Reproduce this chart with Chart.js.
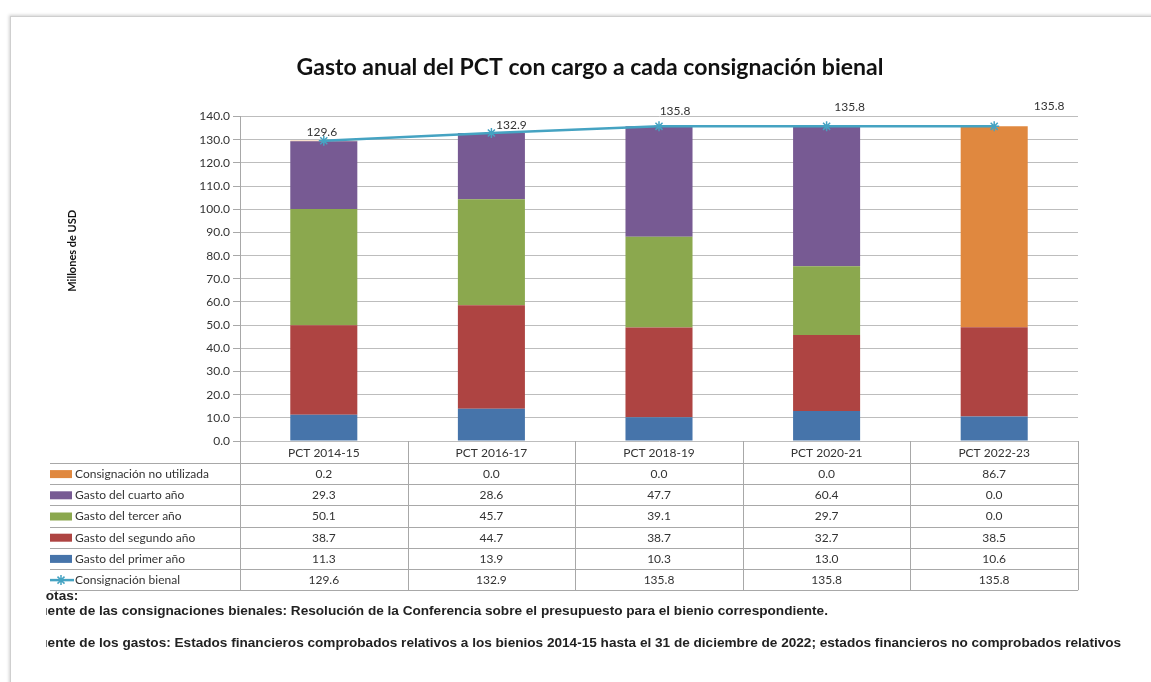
<!DOCTYPE html>
<html>
<head>
<meta charset="utf-8">
<script src="https://cdn.jsdelivr.net/npm/chart.js@4"></script>
<style>
  html, body { margin: 0; padding: 0; background: #fff; }
  body { width: 1151px; height: 682px; position: relative; overflow: hidden; }
  #frame { position: absolute; left: 10px; top: 16px; width: 1200px; height: 720px;
           border: 1px solid #cfcfcf; box-shadow: -1px -1px 3px rgba(0,0,0,0.18); }
  #wrap { position: absolute; left: 0; top: 0; width: 1151px; height: 682px; }
  .note { position: absolute; left: 46px; overflow: hidden; white-space: nowrap;
          font-family: "Liberation Sans", Arial, sans-serif; font-weight: bold; font-size: 13.6px; color: #222; }
  .note span { position: relative; }
</style>
</head>
<body>
<div id="frame"></div>
<div id="wrap"><canvas id="c" width="1151" height="682"></canvas></div>
<div class="note" style="top:588px; width:200px;"><span style="left:-10px;">Notas:</span></div>
<div class="note" style="top:603px; width:1100px;"><span style="left:-15px;">Fuente de las consignaciones bienales: Resolución de la Conferencia sobre el presupuesto para el bienio correspondiente.</span></div>
<div class="note" style="top:635px; width:1100px;"><span style="left:-15px;">Fuente de los gastos: Estados financieros comprobados relativos a los bienios 2014-15 hasta el 31 de diciembre de 2022; estados financieros no comprobados relativos</span></div>
<script>
const categories = ["PCT 2014-15", "PCT 2016-17", "PCT 2018-19", "PCT 2020-21", "PCT 2022-23"];
const primerAno   = [11.3, 13.9, 10.3, 13.0, 10.6];
const segundoAno  = [38.7, 44.7, 38.7, 32.7, 38.5];
const tercerAno   = [50.1, 45.7, 39.1, 29.7, 0.0];
const cuartoAno   = [29.3, 28.6, 47.7, 60.4, 0.0];
const noUtilizada = [0.2, 0.0, 0.0, 0.0, 86.7];
const consignacion = [129.6, 132.9, 135.8, 135.8, 135.8];
const yTicks = [0, 10, 20, 30, 40, 50, 60, 70, 80, 90, 100, 110, 120, 130, 140];

const FONT = "Lato, 'Open Sans', sans-serif";
const TEXT = "#333333";
const LINE_COLOR = "#45A3C2";

const datasets = [
  { label: "Gasto del primer año", data: primerAno, backgroundColor: "#4674AA", order: 1 },
  { label: "Gasto del segundo año", data: segundoAno, backgroundColor: "#AE4442", order: 1 },
  { label: "Gasto del tercer año", data: tercerAno, backgroundColor: "#8BA84E", order: 1 },
  { label: "Gasto del cuarto año", data: cuartoAno, backgroundColor: "#775A93", order: 1 },
  { label: "Consignación no utilizada", data: noUtilizada, backgroundColor: "#E0883F", order: 1 },
  { label: "Consignación bienal", data: consignacion, type: "line", stack: "line", order: 0,
    borderColor: LINE_COLOR, backgroundColor: LINE_COLOR, borderWidth: 2.5,
    pointStyle: "star", pointRadius: 5, pointBorderWidth: 1.5, pointBorderColor: LINE_COLOR, tension: 0 }
];

// Table rows in display order (top to bottom)
const tableRows = [
  { label: "Consignación no utilizada", values: noUtilizada, color: "#E0883F" },
  { label: "Gasto del cuarto año", values: cuartoAno, color: "#775A93" },
  { label: "Gasto del tercer año", values: tercerAno, color: "#8BA84E" },
  { label: "Gasto del segundo año", values: segundoAno, color: "#AE4442" },
  { label: "Gasto del primer año", values: primerAno, color: "#4674AA" },
  { label: "Consignación bienal", values: consignacion, color: LINE_COLOR, line: true }
];

const labelOffsets = [[-2, -9], [20, -8], [16, -15], [23, -19], [55, -20]];

const tablePlugin = {
  id: "dataTable",
  afterDatasetsDraw(chart) {
    const ctx = chart.ctx;
    const meta = chart.getDatasetMeta(5);
    ctx.save();
    ctx.font = "12px " + FONT;
    ctx.fillStyle = TEXT;
    ctx.textAlign = "center";
    ctx.textBaseline = "middle";
    meta.data.forEach((pt, i) => {
      ctx.fillText(consignacion[i].toFixed(1), pt.x + labelOffsets[i][0], pt.y + labelOffsets[i][1]);
    });
    ctx.restore();
  },
  afterDraw(chart) {
    const ctx = chart.ctx;
    const area = chart.chartArea;
    const n = categories.length;
    const colW = (area.right - area.left) / n;
    const top = area.bottom;
    const headerH = 22;
    const rowH = 21.2;
    const legendLeft = 50;
    const bottom = top + headerH + rowH * tableRows.length;
    ctx.save();
    // y-axis title
    ctx.save();
    ctx.translate(72, (area.top + area.bottom) / 2 - 28);
    ctx.rotate(-Math.PI / 2);
    ctx.font = "bold 11px " + FONT;
    ctx.fillStyle = "#111";
    ctx.textAlign = "center";
    ctx.textBaseline = "middle";
    ctx.fillText("Millones de USD", 0, 0);
    ctx.restore();

    ctx.strokeStyle = "#A8A8A8";
    ctx.lineWidth = 1;
    for (let i = 0; i <= n; i++) {
      const xx = Math.round(area.left + i * colW) + 0.5;
      ctx.beginPath(); ctx.moveTo(xx, top); ctx.lineTo(xx, bottom); ctx.stroke();
    }
    for (let r = 0; r <= tableRows.length; r++) {
      const yy = Math.round(top + headerH + r * rowH) + 0.5;
      ctx.beginPath(); ctx.moveTo(legendLeft, yy); ctx.lineTo(area.right, yy); ctx.stroke();
    }
    ctx.font = "12px " + FONT;
    ctx.fillStyle = TEXT;
    ctx.textAlign = "center";
    ctx.textBaseline = "middle";
    categories.forEach((c, i) => {
      ctx.fillText(c, chart.scales.x.getPixelForTick(i), top + headerH / 2 + 1);
    });
    tableRows.forEach((row, r) => {
      const cy = top + headerH + r * rowH + rowH / 2 + 0.5;
      if (row.line) {
        ctx.strokeStyle = row.color; ctx.lineWidth = 2.5;
        ctx.beginPath(); ctx.moveTo(legendLeft, cy); ctx.lineTo(legendLeft + 24, cy); ctx.stroke();
        ctx.lineWidth = 1.5;
        const mx = legendLeft + 11, s = 5;
        ctx.beginPath();
        ctx.moveTo(mx - s, cy); ctx.lineTo(mx + s, cy);
        ctx.moveTo(mx, cy - s); ctx.lineTo(mx, cy + s);
        ctx.moveTo(mx - s * 0.7, cy - s * 0.7); ctx.lineTo(mx + s * 0.7, cy + s * 0.7);
        ctx.moveTo(mx - s * 0.7, cy + s * 0.7); ctx.lineTo(mx + s * 0.7, cy - s * 0.7);
        ctx.stroke();
      } else {
        ctx.fillStyle = row.color;
        ctx.fillRect(legendLeft, cy - 4, 22, 8);
      }
      ctx.fillStyle = TEXT;
      ctx.textAlign = "left";
      ctx.fillText(row.label, legendLeft + 25, cy);
      ctx.textAlign = "center";
      row.values.forEach((v, i) => {
        ctx.fillText(v.toFixed(1), chart.scales.x.getPixelForTick(i), cy);
      });
    });
    ctx.restore();
  }
};

new Chart(document.getElementById("c"), {
  type: "bar",
  data: { labels: categories, datasets: datasets },
  plugins: [tablePlugin],
  options: {
    responsive: false,
    animation: false,
    events: [],
    datasets: { bar: { categoryPercentage: 1.0, barPercentage: 0.4 } },
    layout: { padding: { left: 102, right: 73, top: 54, bottom: 241 } },
    plugins: {
      legend: { display: false },
      tooltip: { enabled: false },
      title: {
        display: true,
        text: "Gasto anual del PCT con cargo a cada consignación bienal",
        color: "#111",
        font: { family: FONT, size: 23, weight: "bold" },
        padding: { top: 0, bottom: 35 }
      }
    },
    scales: {
      x: {
        stacked: true,
        display: false
      },
      y: {
        stacked: true,
        min: 0,
        max: 140,
        afterFit(scale) { scale.width = 138; },
        afterBuildTicks(scale) { scale.ticks = yTicks.map(v => ({ value: v })); },
        border: { display: true, color: "#A8A8A8" },
        grid: { color: "#BDBDBD", lineWidth: 1, tickLength: 7, drawTicks: true, tickColor: "#A8A8A8" },
        ticks: {
          padding: 3,
          color: TEXT,
          font: { family: FONT, size: 12 },
          callback: v => Number(v).toFixed(1)
        }
      }
    }
  }
});
</script>
</body>
</html>
